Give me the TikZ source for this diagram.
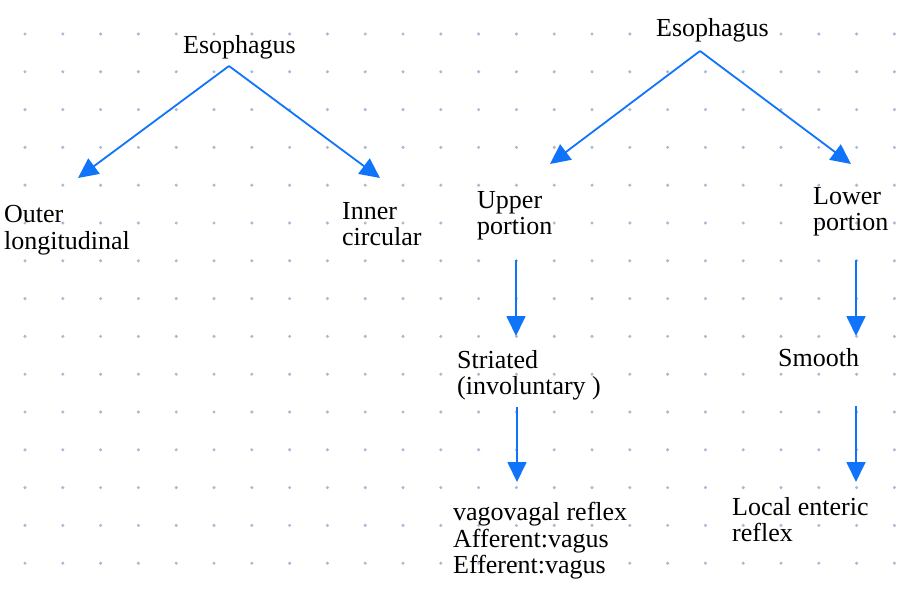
\documentclass[tikz,border=0pt]{standalone}
\usepackage{fontspec}
\setmainfont{Liberation Serif}
\usepackage{tikz}
\usetikzlibrary{arrows.meta}
\definecolor{linkblue}{HTML}{0F74FA}
\definecolor{dotgray}{HTML}{A8BAD6}

\begin{document}
\begin{tikzpicture}[x=1pt,y=-1pt,
    word/.style={anchor=north west,inner sep=0pt,align=left,
      font=\fontsize{26}{26.7}\selectfont},
    link/.style={draw=linkblue,line width=1.8pt,
      -{Triangle[width=19pt,length=20pt]}}]
    \useasboundingbox[fill=white] (0,0) rectangle (914,591);
    \foreach \i in {0,...,23}
      \foreach \j in {0,...,14}
        \fill[dotgray] (25+37.8*\i,34+37.8*\j) circle (1.7pt);

    % left tree
    \node[word] (esoL) at (183,35) {Esophagus};
    \node[word] (outer) at (4,205) {Outer\\longitudinal};
    \node[word] (inner) at (342,202) {Inner\\circular};
    \draw[link] ([xshift=46pt,yshift=-31pt]esoL.north west) -- ([xshift=74pt,yshift=27pt]outer.north west);
    \draw[link] ([xshift=46pt,yshift=-31pt]esoL.north west) -- ([xshift=38pt,yshift=24pt]inner.north west);

    % right tree
    \node[word] (esoR) at (656,18) {Esophagus};
    \node[word] (upper) at (477,191) {Upper\\portion};
    \node[word] (lower) at (813,187) {Lower\\portion};
    \node[word] (striated) at (457,350) {Striated\\(involuntary )};
    \node[word] (smooth) at (778,348) {Smooth};
    \node[word] (vago) at (453,502) {vagovagal reflex\\Afferent:vagus\\Efferent:vagus};
    \node[word] (local) at (732,497) {Local enteric\\reflex};
    \draw[link] ([xshift=44pt,yshift=-33pt]esoR.north west) -- ([xshift=73pt,yshift=27pt]upper.north west);
    \draw[link] ([xshift=44pt,yshift=-33pt]esoR.north west) -- ([xshift=38pt,yshift=23pt]lower.north west);
    \draw[link] ([xshift=39pt,yshift=-69pt]upper.north west) -- ([xshift=59pt,yshift=14pt]striated.north west);
    \draw[link] ([xshift=43pt,yshift=-73pt]lower.north west) -- ([xshift=78pt,yshift=12pt]smooth.north west);
    \draw[link] ([xshift=60pt,yshift=-57pt]striated.north west) -- ([xshift=64pt,yshift=20pt]vago.north west);
    \draw[link] ([xshift=78pt,yshift=-58pt]smooth.north west) -- ([xshift=124pt,yshift=15pt]local.north west);
\end{tikzpicture}
\end{document}
